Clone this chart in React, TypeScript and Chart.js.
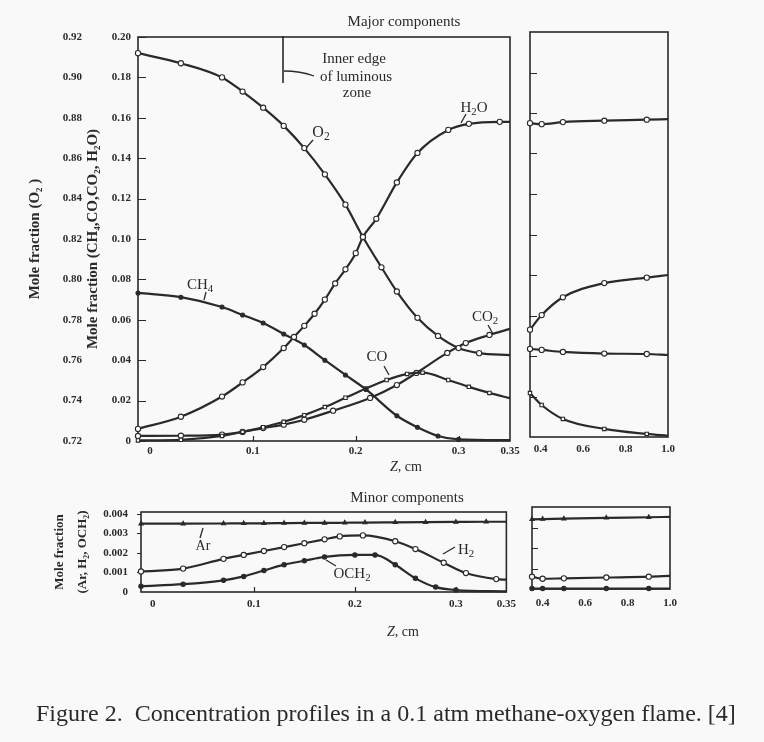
import React, { useEffect, useRef } from 'react';
import { Chart, registerables } from 'chart.js';

Chart.register(...registerables);

// ---------------- data ----------------
// Major components, near region (Z in cm, mole fraction)
const Z_O2 = [-0.0117, 0.03, 0.07, 0.09, 0.11, 0.13, 0.15, 0.17, 0.19, 0.207, 0.225, 0.24, 0.26, 0.28, 0.3, 0.32, 0.35];
const O2 = [0.912, 0.907, 0.9, 0.893, 0.885, 0.876, 0.865, 0.852, 0.837, 0.821, 0.806, 0.794, 0.781, 0.772, 0.766, 0.7635, 0.7625];

const Z_H2O = [-0.0117, 0.03, 0.07, 0.09, 0.11, 0.13, 0.14, 0.15, 0.16, 0.17, 0.18, 0.19, 0.2, 0.207, 0.22, 0.24, 0.26, 0.29, 0.31, 0.34, 0.35];
const H2O = [0.006, 0.012, 0.022, 0.029, 0.0366, 0.046, 0.0515, 0.057, 0.063, 0.07, 0.078, 0.085, 0.093, 0.101, 0.11, 0.128, 0.1426, 0.154, 0.157, 0.158, 0.158];

const Z_CH4 = [-0.0117, 0.03, 0.07, 0.09, 0.11, 0.13, 0.15, 0.17, 0.19, 0.21, 0.24, 0.26, 0.28, 0.3, 0.35];
const CH4 = [0.0733, 0.0712, 0.0663, 0.0624, 0.0584, 0.053, 0.0475, 0.04, 0.0327, 0.0255, 0.0125, 0.0068, 0.0025, 0.0008, 0.0004];

const Z_CO = [-0.0117, 0.03, 0.07, 0.09, 0.11, 0.13, 0.15, 0.17, 0.19, 0.21, 0.23, 0.25, 0.265, 0.29, 0.31, 0.33, 0.35];
const CO = [0.0003, 0.0006, 0.0025, 0.0045, 0.0068, 0.0095, 0.0128, 0.0168, 0.0214, 0.026, 0.0302, 0.0332, 0.0338, 0.0302, 0.0268, 0.0238, 0.0212];

const Z_CO2 = [-0.0117, 0.03, 0.07, 0.09, 0.11, 0.13, 0.15, 0.178, 0.214, 0.24, 0.259, 0.289, 0.307, 0.33, 0.35];
const CO2 = [0.0025, 0.0026, 0.0032, 0.0045, 0.0064, 0.0081, 0.0105, 0.015, 0.0213, 0.0277, 0.0337, 0.0436, 0.0485, 0.0525, 0.0555];

// Major components, far region
const Z_FAR = [0.35, 0.405, 0.505, 0.7, 0.9, 1.0];
const H2O_FAR = [0.155, 0.1545, 0.1555, 0.1562, 0.1567, 0.157];
const CO2_FAR = [0.053, 0.0602, 0.069, 0.076, 0.0787, 0.08];
const O2_FAR = [0.7635, 0.763, 0.762, 0.7612, 0.761, 0.7605];
const CO_FAR = [0.0217, 0.0158, 0.0089, 0.004, 0.0015, 0.0006];

// Minor components, near region
const Z_AR = [-0.0117, 0.03, 0.07, 0.09, 0.11, 0.13, 0.15, 0.17, 0.19, 0.21, 0.24, 0.27, 0.3, 0.33, 0.35];
const AR = [0.0035, 0.0035, 0.00351, 0.00352, 0.00352, 0.00353, 0.00354, 0.00354, 0.00355, 0.00356, 0.00357, 0.00358, 0.00359, 0.0036, 0.0036];

const Z_H2 = [-0.0117, 0.03, 0.07, 0.09, 0.11, 0.13, 0.15, 0.17, 0.185, 0.208, 0.24, 0.26, 0.288, 0.31, 0.34, 0.35];
const H2 = [0.00105, 0.0012, 0.0017, 0.0019, 0.0021, 0.0023, 0.0025, 0.0027, 0.00285, 0.0029, 0.0026, 0.0022, 0.0015, 0.00097, 0.00066, 0.00063];

const Z_OCH2 = [-0.0117, 0.03, 0.07, 0.09, 0.11, 0.13, 0.15, 0.17, 0.2, 0.22, 0.24, 0.26, 0.28, 0.3, 0.35];
const OCH2 = [0.0003, 0.0004, 0.0006, 0.0008, 0.0011, 0.0014, 0.0016, 0.0018, 0.0019, 0.0019, 0.0014, 0.0007, 0.00025, 0.0001, 0.00003];

// Minor components, far region
const Z_FAR_MINOR = [0.35, 0.4, 0.5, 0.7, 0.9, 1.0];
const AR_FAR = [0.0034, 0.00341, 0.00343, 0.00347, 0.0035, 0.00352];
const H2_FAR = [0.0006, 0.0005, 0.00052, 0.00056, 0.0006, 0.00064];
const OCH2_FAR = [0.00002, 0.00002, 0.00002, 0.00002, 0.00002, 0.00002];

// Axes / ticks
const Z_MIN = -0.0117;
const Z_MAX = 0.35;
const Z_FAR_MIN = 0.35;
const Z_FAR_MAX = 1.0;
const Z_TICKS = [0, 0.1, 0.2, 0.3, 0.35];
const Z_FAR_TICKS = [0.4, 0.6, 0.8, 1.0];
const MAJOR_TICKS = [0, 0.02, 0.04, 0.06, 0.08, 0.1, 0.12, 0.14, 0.16, 0.18, 0.2];
const O2_TICKS = [0.72, 0.74, 0.76, 0.78, 0.8, 0.82, 0.84, 0.86, 0.88, 0.9, 0.92];
const MINOR_TICKS = [0, 0.001, 0.002, 0.003, 0.004];

// ---------------- styling ----------------
const INK = '#2a2a2a';
const BG = '#f9f9f9';
const SERIF = "'Liberation Serif', 'DejaVu Serif', serif";
const TICK_FONT = { family: SERIF, size: 11, weight: 'bold' as any };

const fmtZ = (v: number) => (v === 0 ? '0' : String(v));
const fmtFar = (v: number) => v.toFixed(1);
const fmtMajor = (v: number) => (v === 0 ? '0' : v.toFixed(2));
const fmtO2 = (v: number) => v.toFixed(2);
const fmtMinor = (v: number) => (v === 0 ? '0' : v.toFixed(3));

function series(xs: number[], ys: number[], o: any = {}) {
  const n = xs.length;
  const r = o.r ?? 2.6;
  return {
    data: xs.map((x, i) => ({ x, y: ys[i] })),
    yAxisID: o.axis ?? 'y',
    borderColor: INK,
    borderWidth: 2.2,
    tension: 0.4,
    cubicInterpolationMode: 'monotone',
    pointStyle: o.style ?? 'circle',
    pointRadius: (c: any) => (o.hideLast !== false && c.dataIndex === n - 1 ? 0 : r),
    pointBackgroundColor: o.filled ? INK : '#ffffff',
    pointBorderColor: INK,
    pointBorderWidth: 1.1,
    clip: 8,
    fill: false,
  };
}

function xAxis(min: number, max: number, ticks: number[], fmt: (v: number) => string, height: number, pad: number) {
  return {
    type: 'linear',
    position: 'bottom',
    min,
    max,
    afterBuildTicks: (s: any) => {
      s.ticks = ticks.map((v) => ({ value: v }));
    },
    afterFit: (s: any) => {
      s.height = height;
    },
    grid: { display: false, drawTicks: false },
    border: { display: false },
    ticks: { autoSkip: false, maxRotation: 0, minRotation: 0, padding: pad, color: INK, font: TICK_FONT, callback: (v: any) => fmt(Number(v)) },
  };
}

function yAxis(min: number, max: number, ticks: number[], fmt: (v: number) => string, width: number, pad: number, weight: number, title: any, titleSize: number, lineHeight = 1.2) {
  return {
    type: 'linear',
    position: 'left',
    weight,
    min,
    max,
    afterBuildTicks: (s: any) => {
      s.ticks = ticks.map((v) => ({ value: v }));
    },
    afterFit: (s: any) => {
      s.width = width;
    },
    grid: { display: false, drawTicks: false },
    border: { display: false },
    ticks: { autoSkip: false, padding: pad, color: INK, font: TICK_FONT, callback: (v: any) => fmt(Number(v)) },
    title: { display: true, text: title, color: INK, padding: { top: 0, bottom: 0 }, font: { family: SERIF, size: titleSize, weight: 'bold', lineHeight } },
  };
}

const hidden = (min: number, max: number) => ({ type: 'linear', display: false, min, max });

const framePlugin = {
  id: 'frame',
  beforeDatasetsDraw(chart: any, _a: any, opts: any) {
    const { ctx, chartArea: a } = chart;
    ctx.save();
    ctx.strokeStyle = INK;
    ctx.lineWidth = 1.6;
    ctx.strokeRect(a.left, a.top, a.right - a.left, a.bottom - a.top);
    ctx.lineWidth = 1.2;
    ctx.beginPath();
    const ys = chart.scales.y;
    (opts.yTicks || []).forEach((v: number) => {
      const p = Math.round(ys.getPixelForValue(v)) + 0.5;
      ctx.moveTo(a.left, p);
      ctx.lineTo(a.left + opts.yLen, p);
    });
    const xs = chart.scales.x;
    (opts.xTicks || []).forEach((v: number) => {
      const p = Math.round(xs.getPixelForValue(v)) + 0.5;
      ctx.moveTo(p, a.bottom);
      ctx.lineTo(p, a.bottom - opts.xLen);
    });
    ctx.stroke();
    ctx.restore();
  },
};

function baseOptions(padding: any, scales: any, frame: any) {
  return {
    animation: false,
    responsive: false,
    maintainAspectRatio: false,
    events: [],
    layout: { padding },
    scales,
    plugins: { legend: { display: false }, tooltip: { enabled: false }, title: { display: false }, frame },
  };
}

const configs: Record<string, () => any> = {
  majorNear: () => ({
    type: 'line',
    data: {
      datasets: [
        series(Z_O2, O2, { axis: 'yO2' }),
        series(Z_H2O, H2O),
        series(Z_CH4, CH4, { filled: true, r: 2 }),
        series(Z_CO, CO, { style: 'rect', r: 2.4 }),
        series(Z_CO2, CO2),
      ],
    },
    options: baseOptions(
      { left: 26, top: 37, right: 14, bottom: 0 },
      {
        x: xAxis(Z_MIN, Z_MAX, Z_TICKS, fmtZ, 39, 4),
        y: yAxis(0, 0.2, MAJOR_TICKS, fmtMajor, 54, 7, 0, 'Mole fraction (CH\u2084,CO,CO\u2082, H\u2082O)', 15),
        yO2: yAxis(0.72, 0.92, O2_TICKS, fmtO2, 58, 2, 1, 'Mole fraction (O\u2082 )', 15),
      },
      { yTicks: MAJOR_TICKS, yLen: 8, xTicks: [0.1, 0.2, 0.3], xLen: 5 }
    ),
    plugins: [framePlugin],
  }),
  majorFar: () => ({
    type: 'line',
    data: {
      datasets: [
        series(Z_FAR, H2O_FAR),
        series(Z_FAR, CO2_FAR),
        series(Z_FAR, O2_FAR, { axis: 'yO2', style: 'circle' }),
        series(Z_FAR, CO_FAR, { style: 'rect', r: 2.4 }),
      ],
    },
    options: baseOptions(
      { left: 10, top: 32, right: 18, bottom: 0 },
      {
        x: xAxis(Z_FAR_MIN, Z_FAR_MAX, Z_FAR_TICKS, fmtFar, 43, 6),
        y: hidden(0, 0.2),
        yO2: hidden(0.72, 0.92),
      },
      { yTicks: MAJOR_TICKS.slice(1, -1), yLen: 7, xTicks: [], xLen: 0 }
    ),
    plugins: [framePlugin],
  }),
  minorNear: () => ({
    type: 'line',
    data: {
      datasets: [
        series(Z_AR, AR, { style: 'triangle', r: 2.4, filled: true }),
        series(Z_H2, H2),
        series(Z_OCH2, OCH2, { filled: true, r: 2.2 }),
      ],
    },
    options: baseOptions(
      { left: 49, top: 32, right: 10, bottom: 0 },
      {
        x: xAxis(Z_MIN, Z_MAX, Z_TICKS, fmtZ, 48, 6),
        y: yAxis(0, 0.0041, MINOR_TICKS, fmtMinor, 92, 13, 0, ['Mole fraction', '(Ar, H\u2082, OCH\u2082)'], 13, 1.7),
      },
      { yTicks: MINOR_TICKS.slice(1), yLen: -4, xTicks: [0.1, 0.2, 0.3], xLen: 5 }
    ),
    plugins: [framePlugin],
  }),
  minorFar: () => ({
    type: 'line',
    data: {
      datasets: [
        series(Z_FAR_MINOR, AR_FAR, { style: 'triangle', r: 2.4, filled: true }),
        series(Z_FAR_MINOR, H2_FAR),
        series(Z_FAR_MINOR, OCH2_FAR, { filled: true, r: 2.2 }),
      ],
    },
    options: baseOptions(
      { left: 12, top: 27, right: 18, bottom: 0 },
      {
        x: xAxis(Z_FAR_MIN, Z_FAR_MAX, Z_FAR_TICKS, fmtFar, 51, 8),
        y: hidden(0, 0.004),
      },
      { yTicks: [0.001, 0.002, 0.003], yLen: 6, xTicks: [], xLen: 0 }
    ),
    plugins: [framePlugin],
  }),
};

function ChartBox({ left, top, width, height, name }: { left: number; top: number; width: number; height: number; name: string }) {
  const ref = useRef<HTMLCanvasElement>(null);
  useEffect(() => {
    const chart = new Chart(ref.current as HTMLCanvasElement, configs[name]());
    return () => chart.destroy();
  }, [name]);
  return (
    <div style={{ position: 'absolute', left, top, width, height }}>
      <canvas ref={ref} width={width} height={height} style={{ display: 'block', width, height }} />
    </div>
  );
}

function Label({ x, y, size = 15, children, left = false, style = {} }: any) {
  return (
    <div
      style={{
        position: 'absolute',
        left: x,
        top: y,
        transform: left ? 'translate(0, -50%)' : 'translate(-50%, -50%)',
        fontSize: size,
        lineHeight: 1,
        whiteSpace: 'pre',
        fontFamily: SERIF,
        color: INK,
        ...style,
      }}
    >
      {children}
    </div>
  );
}

const subStyle = { fontSize: '0.72em', verticalAlign: '-0.3em', lineHeight: 0 };
const S = ({ children }: any) => <span style={subStyle}>{children}</span>;

export default function App() {
  return (
    <div style={{ position: 'absolute', left: 0, top: 0, width: 764, height: 742, background: BG, overflow: 'hidden' }}>
      <ChartBox name="majorNear" left={0} top={0} width={524} height={480} />
      <ChartBox name="majorFar" left={520} top={0} width={166} height={480} />
      <ChartBox name="minorNear" left={0} top={480} width={522} height={160} />
      <ChartBox name="minorFar" left={520} top={480} width={168} height={160} />

      <svg width={764} height={742} style={{ position: 'absolute', left: 0, top: 0, pointerEvents: 'none' }}>
        <g stroke={INK} strokeWidth={1.3} fill="none">
          <path d="M283 36 V83" strokeWidth={1.6} />
          <path d="M284 71 Q300 71 314 76" />
          <path d="M313 140 L306 148" />
          <path d="M466 114 L461 123" />
          <path d="M206 292 L204 300" />
          <path d="M488 325 L493 334" />
          <path d="M384 366 L389 375" />
          <path d="M203 528 L200 538" />
          <path d="M455 547 L443 554" />
          <path d="M336 566 L326 560" />
        </g>
      </svg>

      <Label x={404} y={21} size={15}>Major components</Label>
      <Label x={354} y={58} size={15}>Inner edge</Label>
      <Label x={356} y={76} size={15}>of luminous</Label>
      <Label x={357} y={92} size={15}>zone</Label>
      <Label x={321} y={132} size={16}>O<S>2</S></Label>
      <Label x={474} y={107} size={15}>H<S>2</S>O</Label>
      <Label x={200} y={284} size={15}>CH<S>4</S></Label>
      <Label x={485} y={316} size={15}>CO<S>2</S></Label>
      <Label x={377} y={356} size={15}>CO</Label>
      <Label x={406} y={467} size={14}><i>Z</i>, cm</Label>

      <Label x={407} y={497} size={15}>Minor components</Label>
      <Label x={203} y={546} size={14}>Ar</Label>
      <Label x={466} y={549} size={15}>H<S>2</S></Label>
      <Label x={352} y={573} size={15}>OCH<S>2</S></Label>
      <Label x={403} y={632} size={14}><i>Z</i>, cm</Label>

      <Label x={36} y={713} size={24} left>{'Figure 2.  Concentration profiles in a 0.1 atm methane-oxygen flame. [4]'}</Label>
    </div>
  );
}
